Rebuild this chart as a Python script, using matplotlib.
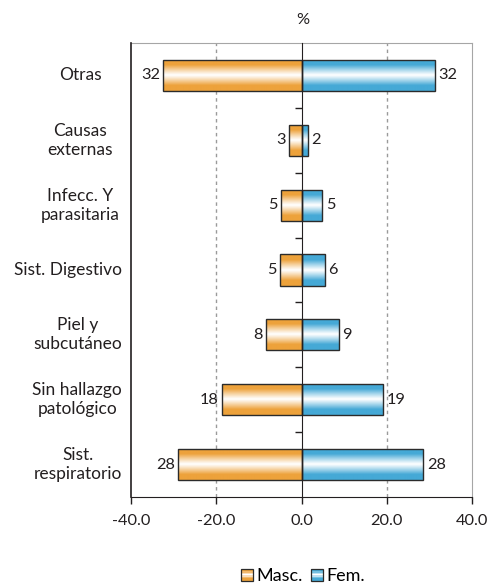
import numpy as np
import matplotlib
matplotlib.use("Agg")
import matplotlib.pyplot as plt
from matplotlib.patches import Rectangle
from matplotlib.legend_handler import HandlerBase
from matplotlib.colors import to_rgb

categories = ["Otras", "Causas\nexternas", "Infecc. Y\nparasitaria", "Sist. Digestivo",
              "Piel y\nsubcutáneo", "Sin hallazgo\npatológico", "Sist.\nrespiratorio"]
masc = [32.4, 2.9, 4.9, 5.1, 8.4, 18.7, 28.9]
fem = [31.3, 1.5, 4.9, 5.5, 8.8, 19.1, 28.6]
masc_labels = ["32", "3", "5", "5", "8", "18", "28"]
fem_labels = ["32", "2", "5", "6", "9", "19", "28"]
xticks = [-40, -20, 0, 20, 40]
xtick_labels = ["-40.0", "-20.0", "0.0", "20.0", "40.0"]
series_names = ["Masc.", "Fem."]

ORANGE = "#EDA23B"
BLUE = "#45A9D6"
EDGE = "#2b2b2b"
TXT = "#231f20"
FONT = "Lato"
FS_NUM = 11.8
FS_CAT = 12.5
FS_LEG = 13

plt.rcParams['font.family'] = [FONT, 'DejaVu Sans']

fig = plt.figure(figsize=(4.9, 5.84), dpi=100)
ax = fig.add_axes([131/490, 1-497/584, 341/490, 454/584])

def gradient_img(color, n=64):
    c = np.array(to_rgb(color))
    t = np.abs(np.linspace(-1, 1, n))
    f = np.clip(t / 0.65, 0, 1) ** 1.1
    img = (1 - f)[:, None] * np.ones(3)[None, :] + f[:, None] * c[None, :]
    return img[:, None, :]

bh = 0.48
y = np.arange(len(categories))
for vals, color, sign in ((masc, ORANGE, -1), (fem, BLUE, 1)):
    img = gradient_img(color)
    bars = ax.barh(y, [sign * v for v in vals], height=bh, color='none',
                   edgecolor=EDGE, linewidth=1.0, zorder=4)
    for b in bars:
        x0, y0 = b.get_x(), b.get_y()
        w, h = b.get_width(), b.get_height()
        im = ax.imshow(img, extent=[x0, x0 + w, y0 + h, y0], aspect='auto',
                       interpolation='bilinear', zorder=3)
        im.set_clip_path(b)

for i in range(len(categories)):
    ax.annotate(masc_labels[i], (-masc[i], y[i]), xytext=(-2.5, 0), textcoords='offset points',
                ha='right', va='center', fontsize=FS_NUM, color=TXT)
    ax.annotate(fem_labels[i], (fem[i], y[i]), xytext=(2.5, 0), textcoords='offset points',
                ha='left', va='center', fontsize=FS_NUM, color=TXT)

ax.set_xlim(-40, 40)
ax.set_ylim(len(categories) - 0.5, -0.5)
ax.set_xticks(xticks)
ax.set_xticklabels(xtick_labels, fontsize=FS_NUM, color=TXT)
ax.tick_params(axis='x', direction='out', length=5, width=1, color=TXT, pad=7)
for gx in (-20, 20):
    ax.axvline(gx, color='#9a9a9a', lw=1, ls=(0, (2.5, 2.5)), zorder=1)

# center axis with boundary ticks
ax.spines['left'].set_position(('data', 0))
ax.spines['left'].set_color(TXT)
ax.spines['left'].set_zorder(5)
ax.set_yticks(np.arange(len(categories) - 1) + 0.5)
ax.set_yticklabels([])
ax.tick_params(axis='y', direction='out', length=5, width=1, color=TXT)
ax.axvline(-40, color=TXT, lw=1.2, clip_on=False, zorder=5)
ax.spines['bottom'].set_color(TXT)
ax.spines['top'].set_color('#a6a6a6')
ax.spines['right'].set_color('#a6a6a6')

# category labels
fig.canvas.draw()
renderer = fig.canvas.get_renderer()
for i, c in enumerate(categories):
    ypix = ax.transData.transform((0, y[i]))[1]
    t = fig.text(80/490, ypix / fig.bbox.height, c, ha='center', va='center',
                 multialignment='center', fontsize=FS_CAT, color=TXT, linespacing=1.25)
    ext = t.get_window_extent(renderer)
    if ext.x1 > 122:
        t.set_ha('right')
        t.set_position((122/490, ypix / fig.bbox.height))

fig.text(303/490, 1 - 20/584, "%", ha='center', va='center', fontsize=FS_NUM, color=TXT)

class GradHandler(HandlerBase):
    def __init__(self, color):
        super().__init__()
        self.color = color
    def create_artists(self, legend, orig_handle, xdescent, ydescent, width, height, fontsize, trans):
        s = min(width, height)
        x0 = -xdescent + (width - s)
        y0 = -ydescent + (height - s) / 2
        img = gradient_img(self.color, n=9)[:, 0, :]
        arts = []
        n = len(img)
        for k in range(n):
            r = Rectangle((x0, y0 + s * k / n), s, s / n + 0.2, facecolor=img[k],
                          edgecolor='none', transform=trans)
            arts.append(r)
        arts.append(Rectangle((x0, y0), s, s, facecolor='none', edgecolor=EDGE,
                              lw=0.9, transform=trans))
        return arts

h1 = Rectangle((0, 0), 1, 1)
h2 = Rectangle((0, 0), 1, 1)
fig.legend([h1, h2], series_names, loc='center', bbox_to_anchor=(303/490, 1 - 576/584),
           ncol=2, frameon=False, fontsize=FS_LEG, handlelength=0.65, handleheight=0.65,
           handletextpad=0.2, columnspacing=0.45,
           handler_map={h1: GradHandler(ORANGE), h2: GradHandler(BLUE)})

fig.savefig("out.png", dpi=100)
